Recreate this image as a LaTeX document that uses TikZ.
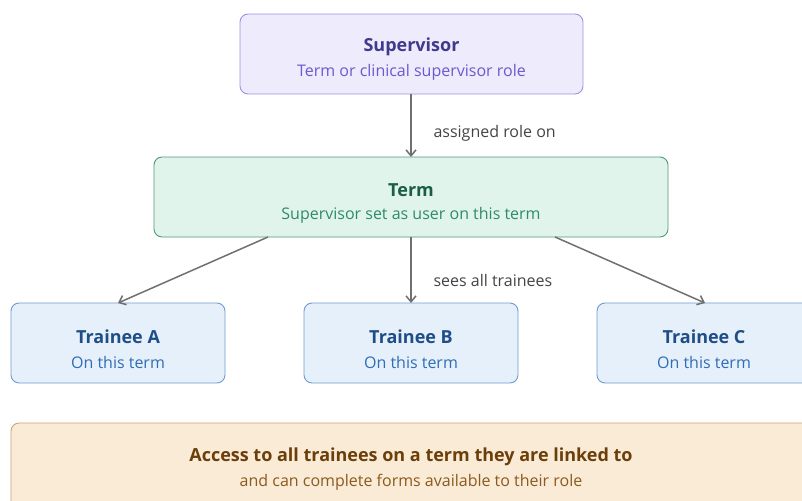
\documentclass[tikz,border=0pt]{standalone}
\usepackage{fontspec}
\setmainfont{Open Sans}
\usetikzlibrary{arrows.meta}
\definecolor{supfill}{HTML}{EEEBFC}
\definecolor{supdraw}{HTML}{9D91E0}
\definecolor{suptitle}{HTML}{3F3A8C}
\definecolor{supsub}{HTML}{6A5ACD}
\definecolor{termfill}{HTML}{E0F4EC}
\definecolor{termdraw}{HTML}{4E9A7A}
\definecolor{termtitle}{HTML}{1B5E48}
\definecolor{termsub}{HTML}{2E8B6A}
\definecolor{trfill}{HTML}{E6F0FB}
\definecolor{trdraw}{HTML}{6F9BD0}
\definecolor{trtitle}{HTML}{1F4E86}
\definecolor{trsub}{HTML}{2F6DB5}
\definecolor{botfill}{HTML}{FAEBD7}
\definecolor{botdraw}{HTML}{C9A57A}
\definecolor{bottitle}{HTML}{6B3E0A}
\definecolor{botsub}{HTML}{8B5A1E}
\definecolor{arrowc}{HTML}{707070}
\definecolor{labc}{HTML}{444444}
\tikzset{
  box/.style={rounded corners=8pt, line width=0.9pt, inner sep=0pt},
  ttl/.style={font=\fontsize{18}{21}\selectfont\bfseries},
  sub/.style={font=\fontsize{16}{19}\selectfont},
  conn/.style={draw=arrowc, line width=1.5pt, -{Straight Barb[length=6pt,width=10pt,line width=1.5pt]}},
  lab/.style={font=\fontsize{16}{19}\selectfont, text=labc, anchor=west}
}
\begin{document}
\begin{tikzpicture}[x=1pt,y=-1pt]
\useasboundingbox (0,0) rectangle (802,500);
\clip (0,0) rectangle (802,500);
% boxes
\draw[box, fill=supfill, draw=supdraw] (240,14) rectangle (583,94);
\node (sup) at (411.5,54) [minimum width=343pt, minimum height=80pt] {};
\node[ttl, text=suptitle] (supt) at (411.5,46.5) {Supervisor};
\node[sub, text=supsub] (sups) at (411.5,72) {Term or clinical supervisor role};

\draw[box, fill=termfill, draw=termdraw] (154,157) rectangle (668,237);
\node (term) at (411,197) [minimum width=514pt, minimum height=80pt] {};
\node[ttl, text=termtitle] (termt) at (411,190.5) {Term};
\node[sub, text=termsub] (terms) at (411,215) {Supervisor set as user on this term};

\foreach \n/\x/\l in {ta/118/A, tb/411/B, tc/704/C}{
  \draw[box, fill=trfill, draw=trdraw] (\x-107,303) rectangle (\x+107,383);
  \node (\n) at (\x,343) [minimum width=214pt, minimum height=80pt] {};
  \node[ttl, text=trtitle] (\n t) at (\x,336.5) {Trainee \l};
  \node[sub, text=trsub] (\n s) at (\x,362) {On this term};
}

\draw[box, fill=botfill, draw=botdraw] (11,423) rectangle (830,520);
\node[ttl, text=bottitle] (bott) at (411,456.5) {Access to all trainees on a term they are linked to};
\node[sub, text=botsub] (bots) at (411,482) {and can complete forms available to their role};

% connectors
\coordinate (s1) at (411,94);
\coordinate (t1) at (411,157);
\draw[conn] (s1) -- (t1);
\node[lab] (l1) at (430,133) {assigned role on};
\coordinate (a0) at (268,237);
\coordinate (a1) at (118,303);
\coordinate (b0) at (411,237);
\coordinate (b1) at (411,303);
\coordinate (c0) at (555,237);
\coordinate (c1) at (705,303);
\draw[conn] (a0) -- (a1);
\draw[conn] (b0) -- (b1);
\draw[conn] (c0) -- (c1);
\node[lab] (l2) at (430,280) {sees all trainees};
\end{tikzpicture}
\end{document}
